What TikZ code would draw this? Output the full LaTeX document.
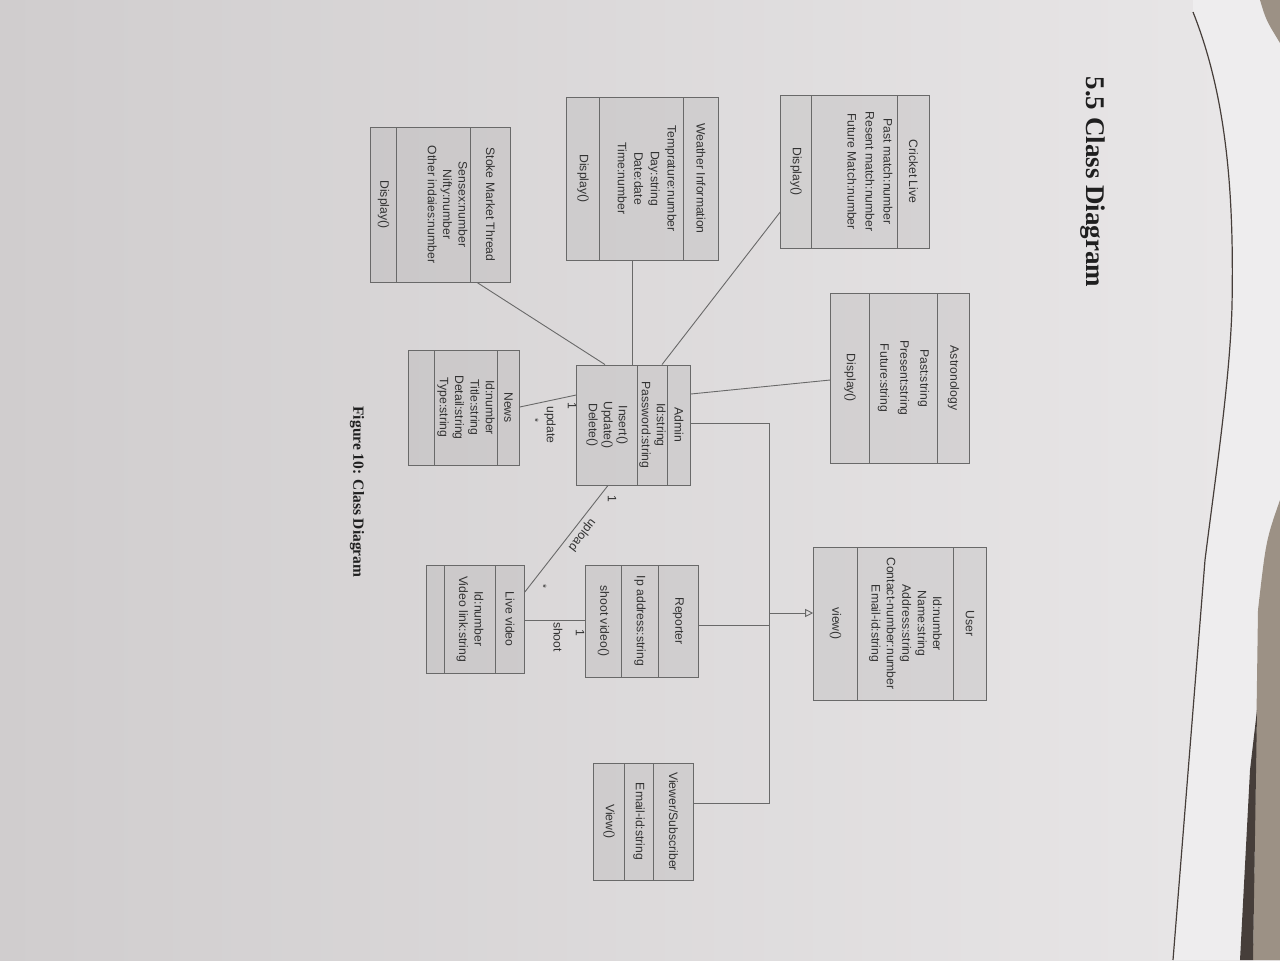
\documentclass[tikz,border=0pt]{standalone}
\usepackage{fontspec}
\setmainfont{Liberation Sans}
\newfontfamily\serifbold{Liberation Serif}
\usetikzlibrary{shapes.multipart,arrows.meta}

\definecolor{pageleft}{RGB}{208,205,206}
\definecolor{pageright}{RGB}{233,231,232}
\definecolor{underpage}{RGB}{238,237,238}
\definecolor{granite}{RGB}{156,145,133}
\definecolor{stoneshadow}{RGB}{70,62,58}
\definecolor{linegray}{RGB}{105,105,105}
\definecolor{textgray}{RGB}{50,50,50}

\newcommand{\classfont}{\fontsize{6.1}{7.7}\selectfont}
% one compartment: width, height, vertical position, text
\newcommand{\classpart}[4]{\parbox[c][#2][#3]{#1}{\centering #4\par}}

\begin{document}
\begin{tikzpicture}[x=0.5pt,y=-0.5pt,
	umlclass/.style={rectangle split, rectangle split parts=3, draw=linegray, line width=0.45pt,
		fill=black, fill opacity=0.06, text opacity=1, inner sep=0pt, rotate=-90,
		font=\classfont, text=textgray},
	link/.style={draw=linegray, line width=0.45pt},
	lbl/.style={font=\classfont, text=textgray, inner sep=0pt, rotate=-90}]

	% the photographed page
	\useasboundingbox (0,0) rectangle (1280,960);
	\shade[left color=pageleft, right color=pageright] (0,0) rectangle (1280,960);
	\fill[underpage] (1193,12) .. controls (1228,100) and (1234,200) .. (1232,306)
		.. controls (1230,380) and (1215,480) .. (1205,560) -- (1173,960)
		-- (1280,960) -- (1280,0) -- (1193,0) -- cycle;
	\draw[stoneshadow, line width=0.6pt] (1193,12) .. controls (1228,100) and (1234,200) .. (1232,306)
		.. controls (1230,380) and (1215,480) .. (1205,560) -- (1173,960);
	\fill[granite] (1280,500) .. controls (1266,540) .. (1258,610) -- (1253,960) -- (1280,960) -- cycle;
	\fill[granite] (1260,0) .. controls (1266,20) .. (1280,43) -- (1280,0) -- cycle;
	\fill[stoneshadow] (1257,710) -- (1253,960) -- (1240,960) -- (1250,770) -- cycle;

	\node[font=\serifbold\bfseries\fontsize{13.5}{16}\selectfont, text=black!88, rotate=-90] (title) at (1093,182) {5.5 Class Diagram};

	% classes
	\node[umlclass] (cricket) at (855,171.5)
		{\classpart{76.5pt}{15.5pt}{c}{Cricket Live}
		\nodepart{two}\classpart{76.5pt}{42.5pt}{t}{\baselineskip=9pt\vspace*{2.3pt}Past match:number\\Resent match:number\\Future Match:number}
		\nodepart{three}\classpart{76.5pt}{15pt}{c}{Display()}};
	\node[umlclass] (weather) at (642.5,178.5)
		{\classpart{81.5pt}{17pt}{c}{Weather Information}
		\nodepart{two}\classpart{81.5pt}{41.5pt}{t}{\baselineskip=8.3pt\vspace*{3.3pt}Temprature:number\\Day:string\\Date:date\\Time:number}
		\nodepart{three}\classpart{81.5pt}{16pt}{c}{Display()}};
	\node[umlclass] (stoke) at (440.5,204.5)
		{\classpart{77.5pt}{19.5pt}{c}{Stoke Market Thread}
		\nodepart{two}\classpart{77.5pt}{36.5pt}{t}{\vspace*{1.3pt}Sensex:number\\Nifty:number\\Other indaies:number}
		\nodepart{three}\classpart{77.5pt}{12.5pt}{c}{Display()}};
	\node[umlclass] (astro) at (900,378)
		{\classpart{85pt}{15.5pt}{c}{Astronology}
		\nodepart{two}\classpart{85pt}{33.5pt}{c}{\baselineskip=10pt Past:string\\Present:string\\Future:string}
		\nodepart{three}\classpart{85pt}{19pt}{c}{Display()}};
	\node[umlclass] (user) at (900,623.5)
		{\classpart{76.5pt}{16pt}{c}{User}
		\nodepart{two}\classpart{76.5pt}{47.5pt}{c}{Id:number\\Name:string\\Address:string\\Contact-number:number\\Email-id:string}
		\nodepart{three}\classpart{76.5pt}{21.5pt}{c}{view()}};
	\node[umlclass] (admin) at (633.5,425)
		{\classpart{60pt}{11pt}{c}{Admin}
		\nodepart{two}\classpart{60pt}{14.5pt}{c}{\baselineskip=7.5pt Id:string\\Password:string}
		\nodepart{three}\classpart{60pt}{30pt}{c}{\baselineskip=7.5pt Insert()\\Update()\\Delete()}};
	\node[umlclass] (news) at (464,407.5)
		{\classpart{57.5pt}{10.5pt}{c}{News}
		\nodepart{two}\classpart{57.5pt}{31pt}{c}{Id:number\\Title:string\\Detail:string\\Type:string}
		\nodepart{three}\classpart{57.5pt}{12.5pt}{c}{}};
	\node[umlclass] (reporter) at (642,621)
		{\classpart{56pt}{19.5pt}{c}{Reporter}
		\nodepart{two}\classpart{56pt}{18pt}{c}{Ip address:string}
		\nodepart{three}\classpart{56pt}{17.5pt}{c}{shoot video()}};
	\node[umlclass] (livevideo) at (475.5,619)
		{\classpart{54pt}{14pt}{c}{Live video}
		\nodepart{two}\classpart{54pt}{25pt}{c}{Id:number\\Video link:string}
		\nodepart{three}\classpart{54pt}{8.5pt}{c}{}};
	\node[umlclass] (viewer) at (643.5,821.5)
		{\classpart{58.5pt}{19.5pt}{c}{Viewer/Subscriber}
		\nodepart{two}\classpart{58.5pt}{14pt}{c}{Email-id:string}
		\nodepart{three}\classpart{58.5pt}{15pt}{c}{View()}};

	% associations with admin
	\draw[link] (477,0 |- stoke.east) -- (605,0 |- admin.west);
	\draw[link] (632,0 |- weather.east) -- (632,0 |- admin.west);
	\draw[link] (cricket.south |- 0,212) -- (662,0 |- admin.west);
	\draw[link] (astro.south |- 0,380) -- (admin.north |- 0,394);
	\draw[link] (news.north |- 0,407) -- (admin.south |- 0,395);
	\draw[link] (608,0 |- admin.east) -- (livevideo.north |- 0,592);
	\draw[link] (livevideo.north |- 0,620) -- (reporter.south |- 0,620);

	% generalization to user
	\coordinate (bustop) at (769,423);
	\coordinate (busmid) at (769,613);
	\coordinate (busbot) at (769,803);
	\draw[link] (admin.north |- bustop) -- (bustop) -- (busbot) -- (viewer.north |- busbot);
	\draw[link] (reporter.north |- 0,625) -- (bustop |- 0,625);
	\draw[link, -{Triangle[open, length=4pt, width=4pt]}] (busmid) -- (user.south |- busmid);

	% multiplicities and role names
	\node[lbl] (updone) at (572,406) {1};
	\node[lbl] (updname) at (550,425) {update};
	\node[lbl, font=\fontsize{5}{5}\selectfont] (updmany) at (535,420) {*};
	\node[lbl] (uplone) at (612,499) {1};
	\node[lbl, rotate=-38] (uplname) at (582,535) {upload};
	\node[lbl, font=\fontsize{5}{5}\selectfont] (uplmany) at (543,586) {*};
	\node[lbl] (shootone) at (580,633) {1};
	\node[lbl] (shootname) at (558,637) {shoot};

	\node[font=\serifbold\bfseries\fontsize{7.75}{9}\selectfont, text=black!88, rotate=-90] (caption) at (357,492) {Figure 10: Class Diagram};
\end{tikzpicture}
\end{document}
